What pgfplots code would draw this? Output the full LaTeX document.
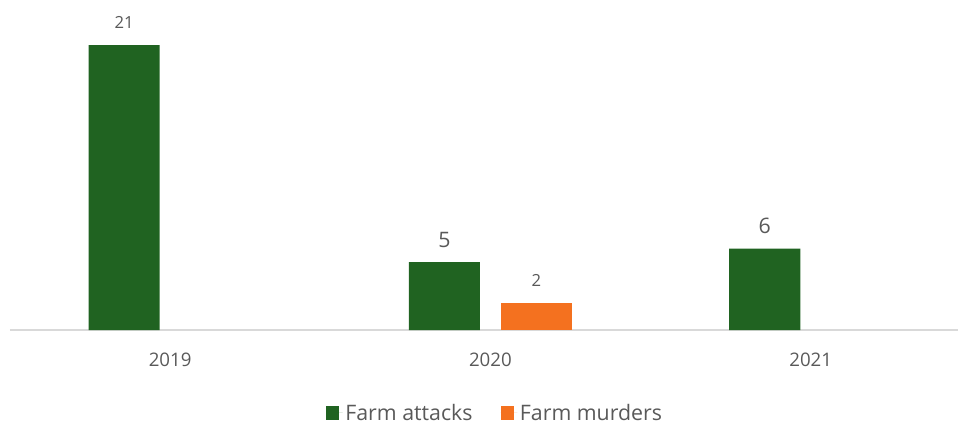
\documentclass[border=0pt]{standalone}
\usepackage{pgfplots}
\pgfplotsset{compat=1.18}
\usepackage{fontspec}
\setmainfont{Open Sans}
\definecolor{farmgreen}{HTML}{206321}
\definecolor{farmorange}{HTML}{F4711F}
\definecolor{txtgray}{HTML}{595959}
\definecolor{linegray}{HTML}{D9D9D9}
\begin{document}
\begin{tikzpicture}
\useasboundingbox (-7.5pt,-72pt) rectangle (711pt,247.5pt);
\begin{axis}[
  at={(0,0)}, anchor=south west,
  scale only axis, width=711pt, height=247.5pt,
  xmin=-0.5, xmax=2.46, ymin=0, ymax=24.32,
  axis x line*=bottom, axis y line=none,
  x axis line style={draw=linegray, line width=1.2pt, -},
  xtick={0,1,2}, xticklabels={2019,2020,2021},
  major tick length=0pt,
  xticklabel style={font=\fontsize{14}{16}\selectfont, text=txtgray, yshift=-14pt},
  ybar, bar width=0.222,
  point meta=explicit symbolic,
  nodes near coords,
  nodes near coords style={anchor=center, yshift=17pt, text=txtgray},
  legend style={draw=none, at={(0.512,-0.2515)}, anchor=center,
    legend columns=2, font=\fontsize{16}{18}\selectfont, text=txtgray,
    /tikz/every even column/.append style={column sep=19pt}},
  legend image code/.code={\fill[#1] (0pt,-4.9pt) rectangle (9.8pt,4.9pt);
    \path (0pt,0pt) -- (12.5pt,0pt);},
]
\addplot[fill=farmgreen, draw=none, bar shift=-0.1435] coordinates {
  (0,21) [\fontsize{12.5}{14}\selectfont 21]
  (1,5) [\fontsize{16}{18}\selectfont 5]
  (2,6) [\fontsize{16}{18}\selectfont 6]
};
\addlegendentry{Farm attacks}
\addplot[fill=farmorange, draw=none, bar shift=0.1435] coordinates {
  (1,2) [\fontsize{12.5}{14}\selectfont 2]
};
\addlegendentry{Farm murders}
\end{axis}
\end{tikzpicture}
\end{document}
